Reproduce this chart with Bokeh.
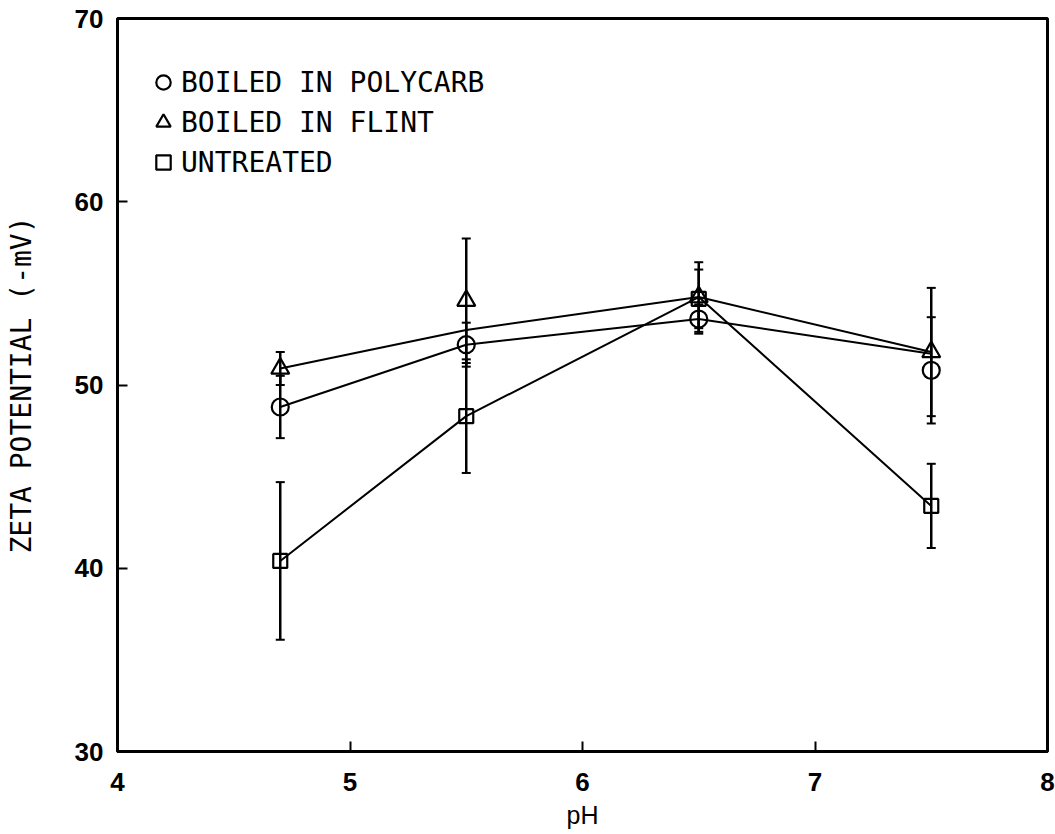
from bokeh.plotting import figure
from bokeh.models import (ColumnDataSource, Whisker, TeeHead, Legend, LegendItem,
                          FixedTicker, Range1d)
from bokeh.embed import file_html
from bokeh.resources import INLINE

# ---- data ----
ph = [4.7, 5.5, 6.5, 7.5]

polycarb = [48.8, 52.2, 53.6, 50.8]
polycarb_err = [1.7, 1.2, 0.8, 2.9]
polycarb_line = [48.8, 52.2, 53.6, 51.7]

flint = [50.9, 54.6, 54.8, 51.8]
flint_err = [0.9, 3.4, 1.9, 3.5]
flint_line = [50.9, 53.0, 54.8, 51.8]

untreated = [40.4, 48.3, 54.7, 43.4]
untreated_err = [4.3, 3.1, 1.6, 2.3]
untreated_line = [40.4, 48.3, 54.8, 43.4]

x_ticks = [4, 5, 6, 7, 8]
y_ticks = [30, 40, 50, 60, 70]
labels = ["BOILED IN POLYCARB", "BOILED IN FLINT", "UNTREATED"]

p = figure(width=1055, height=834, x_range=Range1d(4, 8), y_range=Range1d(30, 70),
           output_backend="svg", toolbar_location=None,
           min_border_left=117, min_border_right=8, min_border_top=18, min_border_bottom=83)
p.grid.visible = False
p.outline_line_color = "black"
p.outline_line_width = 3
p.outline_line_alpha = 1.0
p.background_fill_color = "white"
p.border_fill_color = "white"

tick_font = "Liberation Sans"
for ax in (p.xaxis[0], p.yaxis[0]):
    ax.axis_line_width = 3
    ax.major_tick_in = 10
    ax.major_tick_out = 0
    ax.major_tick_line_width = 2
    ax.minor_tick_in = 0
    ax.minor_tick_out = 0
    ax.major_label_text_font = tick_font
    ax.major_label_text_font_style = "bold"
    ax.major_label_text_font_size = "26px"
    ax.major_label_text_color = "black"
    ax.axis_label_text_color = "black"
    ax.axis_label_text_font_style = "normal"

p.xaxis.ticker = FixedTicker(ticks=x_ticks)
p.yaxis.ticker = FixedTicker(ticks=y_ticks)
p.xaxis.major_label_standoff = 21
p.yaxis.major_label_standoff = 14
p.xaxis.axis_label = "pH"
p.xaxis.axis_label_text_font = "Liberation Sans"
p.xaxis.axis_label_text_font_size = "25px"
p.xaxis.axis_label_standoff = 7
p.yaxis.axis_label = "ZETA POTENTIAL (-mV)"
p.yaxis.axis_label_text_font = "DejaVu Sans Mono"
p.yaxis.axis_label_text_font_size = "28px"
p.yaxis.axis_label_standoff = 34

series = [
    (polycarb, polycarb_err, polycarb_line, "circle", 17),
    (flint, flint_err, flint_line, "triangle", 18),
    (untreated, untreated_err, untreated_line, "square", 14),
]

marker_renderers = []
for vals, errs, line_vals, marker, size in series:
    src = ColumnDataSource(dict(
        x=ph, y=vals,
        upper=[v + e for v, e in zip(vals, errs)],
        lower=[v - e for v, e in zip(vals, errs)],
    ))
    p.line(ph, line_vals, line_color="black", line_width=2)
    w = Whisker(base="x", upper="upper", lower="lower", source=src,
                line_color="black", line_width=2.5,
                upper_head=TeeHead(size=9, line_width=2, line_color="black"),
                lower_head=TeeHead(size=9, line_width=2, line_color="black"))
    p.add_layout(w)
    r = p.scatter("x", "y", source=src, marker=marker, size=size,
                  fill_color="white", fill_alpha=0.0, line_color="black", line_width=2.2)
    marker_renderers.append(r)

legend = Legend(items=[LegendItem(label=lab, renderers=[r])
                       for lab, r in zip(labels, marker_renderers)],
                location=(28, 571), orientation="vertical",
                glyph_width=36, glyph_height=36, spacing=4, padding=0, margin=0,
                label_standoff=0, label_height=36,
                label_text_font="DejaVu Sans Mono", label_text_font_size="28px",
                label_text_color="black",
                border_line_alpha=0, background_fill_alpha=0)
p.add_layout(legend, "center")

open("out.html", "w").write(file_html(p, INLINE))
